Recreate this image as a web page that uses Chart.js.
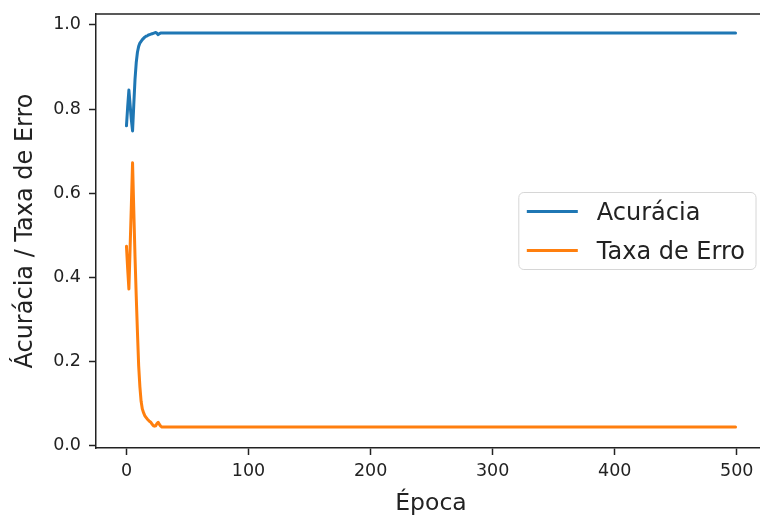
<!DOCTYPE html>
<html>
<head>
<meta charset="utf-8">
<script src="https://cdn.jsdelivr.net/npm/chart.js@4.4.0/dist/chart.umd.min.js"></script>
<style>
  html, body { margin: 0; padding: 0; background: #fff; overflow: hidden; }
  #wrap { width: 760px; height: 516px; overflow: hidden; }
  canvas { display: block; }
</style>
</head>
<body>
<div id="wrap"><canvas id="myChart" width="780" height="516"></canvas></div>
<script>
// epochs listed until the curves go flat, then the last epoch
const epochs = [0, 1, 2, 3, 4, 5, 6, 7, 8, 9, 10, 11, 12, 13, 14, 15, 16, 17, 18, 19,
    20, 21, 22, 23, 24, 25, 26, 27, 28, 29, 30, 499];

const accuracy = [0.760, 0.805, 0.845, 0.810, 0.775, 0.748, 0.810, 0.870, 0.910, 0.935,
    0.949, 0.957, 0.961, 0.965, 0.968, 0.971, 0.973, 0.974, 0.976, 0.977,
    0.978, 0.979, 0.980, 0.981, 0.982, 0.980, 0.977, 0.979, 0.981, 0.981, 0.981, 0.981];

const errorRate = [0.474, 0.420, 0.372, 0.470, 0.570, 0.672, 0.560, 0.450, 0.356, 0.270,
    0.190, 0.140, 0.105, 0.087, 0.078, 0.071, 0.067, 0.063, 0.060, 0.057,
    0.055, 0.051, 0.047, 0.046, 0.047, 0.052, 0.055, 0.050, 0.046, 0.044, 0.044, 0.044];

const seriesLabels = ['Acurácia', 'Taxa de Erro'];
const xTicks = [0, 100, 200, 300, 400, 500];
const yTicks = [0.0, 0.2, 0.4, 0.6, 0.8, 1.0];

const FONT = "'DejaVu Sans', sans-serif";
const INK = '#222';

// top spine (matplotlib box), right spine falls outside the picture
const topSpine = {
    id: 'topSpine',
    afterDraw(chart) {
        const { ctx, chartArea } = chart;
        ctx.save();
        ctx.strokeStyle = INK;
        ctx.lineWidth = 1.5;
        ctx.beginPath();
        ctx.moveTo(chartArea.left, chartArea.top);
        ctx.lineTo(chartArea.right, chartArea.top);
        ctx.stroke();
        ctx.restore();
    }
};

// legend drawn "center right" inside the plot
const boxLegend = {
    id: 'boxLegend',
    afterDraw(chart) {
        const { ctx, chartArea } = chart;
        const sets = chart.data.datasets;
        ctx.save();
        ctx.font = '24px ' + FONT;
        let textW = 0;
        sets.forEach(ds => { textW = Math.max(textW, ctx.measureText(ds.label).width); });
        const padL = 8, handle = 51, gap = 19, padR = 11, rowH = 39, padV = 19;
        const w = padL + handle + gap + textW + padR;
        const h = padV * 2 + rowH * (sets.length - 1);
        const x = chartArea.right - 10 - w;
        const y = (chartArea.top + chartArea.bottom) / 2 - h / 2;

        ctx.beginPath();
        ctx.roundRect(x, y, w, h, 5);
        ctx.fillStyle = 'rgba(255,255,255,0.8)';
        ctx.fill();
        ctx.strokeStyle = '#d6d6d6';
        ctx.lineWidth = 1;
        ctx.stroke();

        sets.forEach((ds, i) => {
            const ly = y + padV + i * rowH;
            ctx.strokeStyle = ds.borderColor;
            ctx.lineWidth = 3;
            ctx.beginPath();
            ctx.moveTo(x + padL, ly);
            ctx.lineTo(x + padL + handle, ly);
            ctx.stroke();
            ctx.fillStyle = INK;
            ctx.textBaseline = 'middle';
            ctx.textAlign = 'left';
            ctx.fillText(ds.label, x + padL + handle + gap, ly + 2);
        });
        ctx.restore();
    }
};

const ctx = document.getElementById('myChart');

const data = {
    datasets: [{
        label: seriesLabels[0],
        data: epochs.map((e, i) => ({ x: e, y: accuracy[i] })),
        borderColor: '#1f77b4',
        borderWidth: 3
    }, {
        label: seriesLabels[1],
        data: epochs.map((e, i) => ({ x: e, y: errorRate[i] })),
        borderColor: '#ff7f0e',
        borderWidth: 3
    }]
};

const options = {
    responsive: false,
    animation: false,
    devicePixelRatio: 1,
    layout: { padding: { top: 14, right: 14, left: 0, bottom: 0 } },
    elements: {
        point: { radius: 0 },
        line: { tension: 0, borderJoinStyle: 'round', borderCapStyle: 'round' }
    },
    plugins: {
        legend: { display: false },
        tooltip: { enabled: false }
    },
    scales: {
        x: {
            type: 'linear',
            min: -24.95,
            max: 523.95,
            afterBuildTicks: s => { s.ticks = xTicks.map(v => ({ value: v })); },
            afterFit: s => { s.height = 68; s.paddingLeft = 0; s.paddingRight = 0; },
            grid: { drawOnChartArea: false, drawTicks: true, tickLength: 7, tickColor: INK, tickWidth: 1.5 },
            border: { display: true, color: INK, width: 1.5 },
            ticks: {
                font: { family: FONT, size: 17.5 },
                color: INK,
                padding: 6,
                maxRotation: 0,
                callback: v => String(v)
            },
            title: {
                display: true,
                text: 'Época',
                color: INK,
                font: { family: FONT, size: 23.5, lineHeight: 1 },
                padding: { top: 0, bottom: 0 }
            }
        },
        y: {
            min: -0.006,
            max: 1.026,
            afterBuildTicks: s => { s.ticks = yTicks.map(v => ({ value: v })); },
            afterFit: s => { s.width = 96; s.paddingTop = 0; s.paddingBottom = 0; },
            grid: { drawOnChartArea: false, drawTicks: true, tickLength: 7, tickColor: INK, tickWidth: 1.5 },
            border: { display: true, color: INK, width: 1.5 },
            ticks: {
                font: { family: FONT, size: 17.5 },
                color: INK,
                padding: 8,
                callback: v => v.toFixed(1)
            },
            title: {
                display: true,
                text: 'Ácurácia / Taxa de Erro',
                color: INK,
                font: { family: FONT, size: 24, lineHeight: 1 },
                padding: { top: 14, bottom: 0 }
            }
        }
    }
};

new Chart(ctx, {
    type: 'line',
    data: data,
    options: options,
    plugins: [topSpine, boxLegend]
});
</script>
</body>
</html>
